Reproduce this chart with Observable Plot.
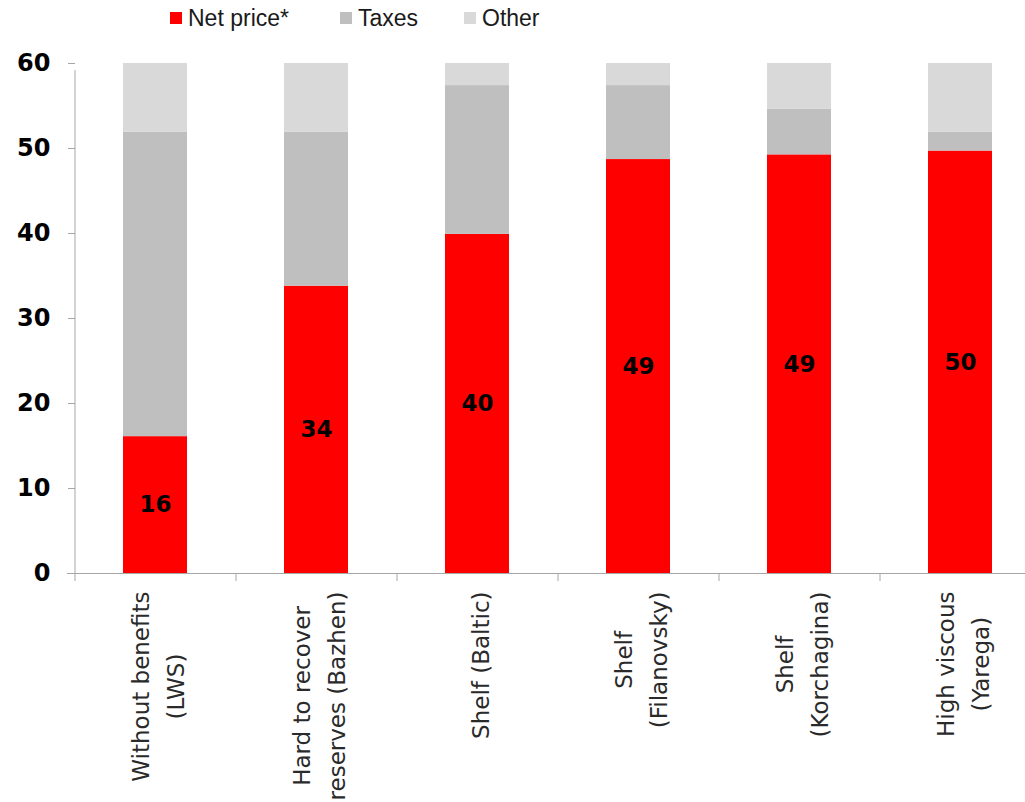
<!DOCTYPE html>
<html><head><meta charset="utf-8">
<script src="https://cdn.jsdelivr.net/npm/d3@7"></script>
<script src="https://cdn.jsdelivr.net/npm/@observablehq/plot@0.6"></script>
<style>
html,body{margin:0;padding:0;background:#fff;overflow:hidden;width:1025px;height:802px;}
#wrap{position:relative;width:1025px;height:802px;overflow:hidden;}
#chart{position:absolute;left:0;top:0;width:1041px;}
#chart svg{max-width:none !important;width:1041px !important;height:802px !important;}
#legend{position:absolute;left:0;top:0;width:1025px;height:40px;font-family:"Liberation Sans",Arial,sans-serif;font-size:23px;color:#1a1a1a;}
.item{position:absolute;top:4px;display:flex;align-items:center;height:28px;}
.sw{width:12px;height:12px;margin-right:6px;}
</style></head><body>
<div id="wrap"><div id="chart"></div><div id="legend"></div></div>
<script>
const categories = ["LWS","Bazhen","Baltic","Filanovsky","Korchagina","Yarega"];
const catLabels = ["Without benefits\n(LWS)","Hard to recover\nreserves (Bazhen)","Shelf (Baltic)","Shelf\n(Filanovsky)","Shelf\n(Korchagina)","High viscous\n(Yarega)"];
const netPrice = [16.1, 33.8, 39.9, 48.7, 49.25, 49.7];
const taxes = [35.8, 18.1, 17.5, 8.7, 5.35, 2.2];
const other = [8.1, 8.1, 2.6, 2.6, 5.4, 8.1];
const valueLabels = ["16","34","40","49","49","50"];
const seriesNames = ["Net price*","Taxes","Other"];
const seriesColors = ["#ff0000","#bfbfbf","#d9d9d9"];
const yTicks = [0,10,20,30,40,50,60];
const legendX = [170, 340, 464];

const rows = [];
categories.forEach((c,i)=>{
  rows.push({cat:c, series:seriesNames[0], value:netPrice[i]});
  rows.push({cat:c, series:seriesNames[1], value:taxes[i]});
  rows.push({cat:c, series:seriesNames[2], value:other[i]});
});
const netRows = categories.map((c,i)=>({cat:c, value:netPrice[i], label:valueLabels[i]}));

const W = 1041, ML = 75, MR = 0, MT = 63, H = 802, MB = 229;
const step = (W - ML - MR) / categories.length;

const labelSize = 23;
const cv = document.createElement("canvas").getContext("2d");
cv.font = labelSize + "px 'DejaVu Sans'";
const labelMarks = categories.map((c,i)=>{
  const L = Math.max(...catLabels[i].split("\n").map(s=>cv.measureText(s).width));
  return Plot.text([c], {x: d=>d, y: 0, text: ()=>catLabels[i], rotate: -90, textAnchor: "middle",
    dy: 18 + L/2, fontSize: labelSize, fontFamily: "DejaVu Sans", fill: "#2a2a2a", lineHeight: 1.5});
});

const chart = Plot.plot({
  width: W, height: H, marginLeft: ML, marginRight: MR, marginTop: MT, marginBottom: MB,
  style: {background: "#fff", overflow: "visible", maxWidth: "none"},
  x: {domain: categories, paddingInner: 0.6, paddingOuter: 0.3, axis: null},
  y: {domain: [0,60], axis: null},
  color: {domain: seriesNames, range: seriesColors},
  marks: [
    Plot.barY(rows, {x:"cat", y:"value", fill:"series"}),
    Plot.text(netRows, {x:"cat", y: d=>d.value/2, text:"label", fontSize: 23, fontWeight: "bold", fontFamily: "DejaVu Sans", fill: "#000"}),
    Plot.axisY({ticks: yTicks, tickSize: 7, tickPadding: 18, stroke: "#a6a6a6", fill: "#000", fontSize: 24, fontWeight: "bold", fontFamily: "DejaVu Sans", label: null}),
    Plot.ruleX([categories[0]], {x: d=>d, y1: 0, y2: 60, dx: -step/2, stroke: "#a6a6a6", insetBottom: -7}),
    Plot.ruleY([0], {stroke: "#a6a6a6", insetLeft: -8}),
    Plot.axisX({tickSize: 8, dx: -step/2, tickFormat: () => "", stroke: "#a6a6a6", label: null}),
    ...labelMarks
  ]
});
document.getElementById("chart").appendChild(chart);

const lg = document.getElementById("legend");
seriesNames.forEach((s,i)=>{
  const it = document.createElement("div");
  it.className = "item";
  it.style.left = legendX[i] + "px";
  it.innerHTML = `<span class="sw" style="background:${seriesColors[i]}"></span><span>${s}</span>`;
  lg.appendChild(it);
});
</script>
</body></html>
